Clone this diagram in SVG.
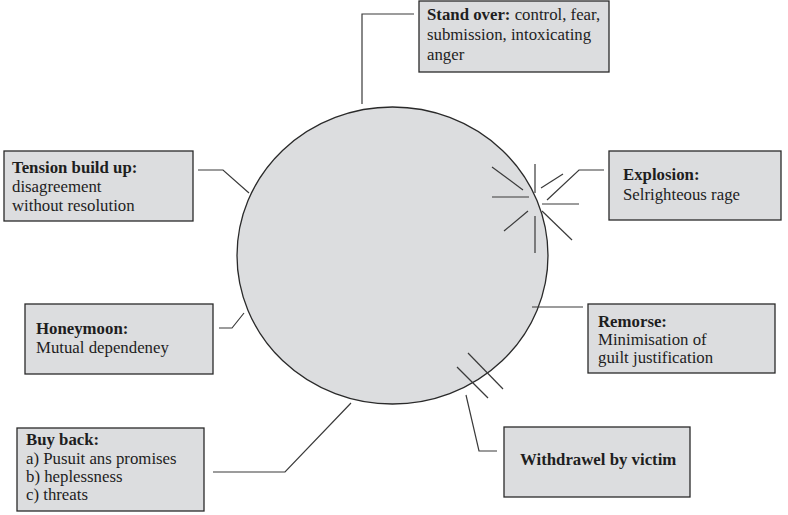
<svg xmlns="http://www.w3.org/2000/svg" width="788" height="515" viewBox="0 0 788 515">
<style>
.box{fill:#dcdddf;stroke:#2a2a2a;stroke-width:1.3}
.t{font-family:"Liberation Serif","Times New Roman",serif;font-size:16.8px;fill:#1e1e1e}
.b{font-weight:bold}
.c{fill:none;stroke:#3a3a3a;stroke-width:1.2}
</style>
<rect width="788" height="515" fill="#fff"/>
<g id="cycle">
<ellipse cx="392.5" cy="255.5" rx="155.5" ry="148.5" fill="#dcdddf" stroke="#2a2a2a" stroke-width="1.3"/>
</g>
<g id="connectors">
<polyline class="c" points="362,104 362,14 414,14"/>
<polyline class="c" points="604,170 579,170 547,200"/>
<polyline class="c" points="198,170 223,170 249,193"/>
<polyline class="c" points="219,328 232,328 244,313"/>
<line class="c" x1="532" y1="307" x2="583" y2="307"/>
<polyline class="c" points="466,395 479,451 497,451"/>
<polyline class="c" points="213,472 285,472 351,403"/>
</g>
<g id="explosion-burst">
<line class="c" x1="535" y1="164" x2="535" y2="193"/>
<line class="c" x1="541" y1="188" x2="563" y2="174"/>
<line class="c" x1="492" y1="167" x2="523" y2="190"/>
<line class="c" x1="492" y1="197" x2="529" y2="197"/>
<line class="c" x1="542" y1="204" x2="579" y2="204"/>
<line class="c" x1="528" y1="211" x2="504" y2="231"/>
<line class="c" x1="535" y1="216" x2="535" y2="253"/>
<line class="c" x1="542" y1="211" x2="572" y2="240"/>
</g>
<g id="remorse-hatch">
<line class="c" x1="468" y1="353" x2="503" y2="389"/>
<line class="c" x1="457" y1="367" x2="488" y2="398"/>
</g>
<g id="stand-over">
<rect class="box" x="419" y="1" width="190" height="71"/>
<text class="t" x="427" y="20"><tspan class="b">Stand over:</tspan> control, fear,</text>
<text class="t" x="427" y="40">submission, intoxicating</text>
<text class="t" x="427" y="60">anger</text>
</g>
<g id="explosion">
<rect class="box" x="609" y="151" width="172" height="69"/>
<text class="t b" x="623" y="180">Explosion:</text>
<text class="t" x="623" y="200">Selrighteous rage</text>
</g>
<g id="tension">
<rect class="box" x="4" y="151" width="189" height="70"/>
<text class="t b" x="12" y="173">Tension build up:</text>
<text class="t" x="12" y="192">disagreement</text>
<text class="t" x="12" y="211">without resolution</text>
</g>
<g id="honeymoon">
<rect class="box" x="25" y="304" width="188" height="70"/>
<text class="t b" x="36" y="334">Honeymoon:</text>
<text class="t" x="36" y="353">Mutual dependeney</text>
</g>
<g id="remorse">
<rect class="box" x="588" y="304" width="187" height="69"/>
<text class="t b" x="598" y="327">Remorse:</text>
<text class="t" x="598" y="345">Minimisation of</text>
<text class="t" x="598" y="363">guilt justification</text>
</g>
<g id="withdrawel">
<rect class="box" x="504" y="427" width="186" height="70"/>
<text class="t b" x="520" y="465">Withdrawel by victim</text>
</g>
<g id="buy-back">
<rect class="box" x="17" y="428" width="187" height="83"/>
<text class="t b" x="26" y="445">Buy back:</text>
<text class="t" x="26" y="464">a) Pusuit ans promises</text>
<text class="t" x="26" y="482">b) heplessness</text>
<text class="t" x="26" y="500">c) threats</text>
</g>
</svg>
